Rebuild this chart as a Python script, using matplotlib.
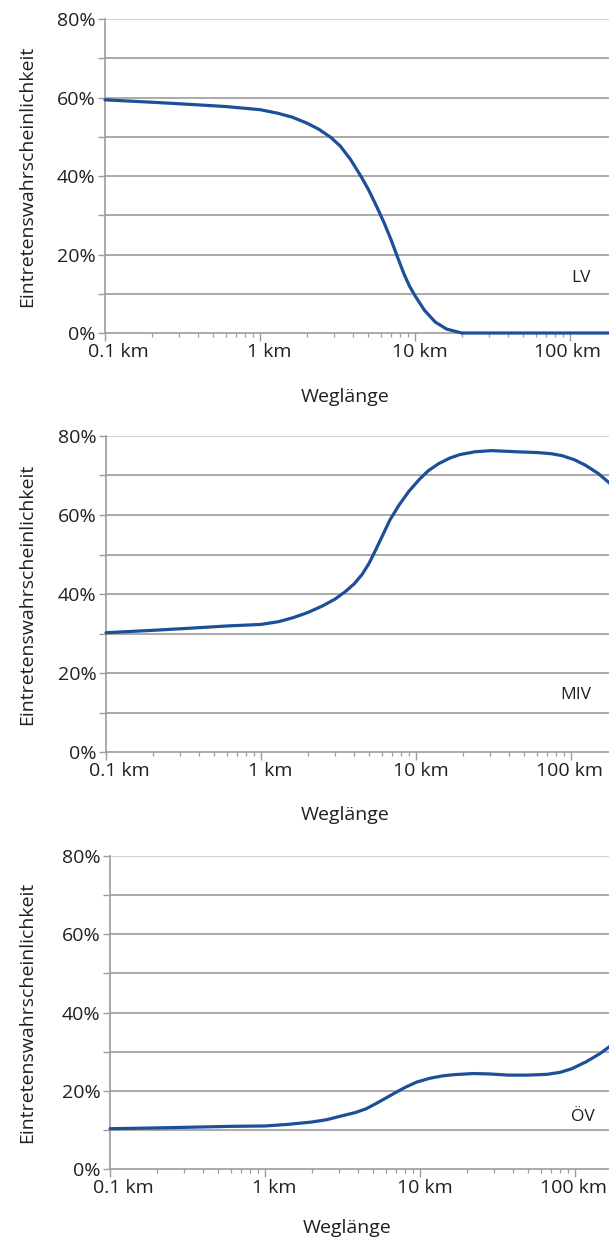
#!/usr/bin/env python3
"""
Eintretenswahrscheinlichkeit nach Weglänge für LV, MIV und ÖV.
"""
import numpy as np
import matplotlib
matplotlib.use('Agg')
import matplotlib.pyplot as plt
from matplotlib.ticker import FixedLocator, FuncFormatter, LogLocator
from matplotlib.transforms import ScaledTranslation

plt.rcParams['font.family'] = ['Open Sans', 'DejaVu Sans']

# Weglänge in km, Wahrscheinlichkeit in %
lv_km = [0.1, 0.2, 0.37, 0.6, 1.0, 1.3, 1.61, 2.0, 2.4, 2.87, 3.3, 3.84, 4.5, 5.0, 5.6,
         6.3, 7.0, 7.6, 8.5, 9.2, 10.0, 11.5, 13.5, 16.0, 20.0, 50.0, 200.0]
lv_pct = [59.4, 58.8, 58.2, 57.7, 56.9, 56.0, 55.0, 53.5, 51.9, 49.8, 47.6, 44.2, 39.8, 36.6, 32.6,
          28.2, 23.8, 20.0, 15.0, 12.0, 9.5, 5.8, 2.8, 1.0, 0.0, 0.0, 0.0]

miv_km = [0.1, 0.2, 0.37, 0.6, 1.0, 1.3, 1.61, 2.0, 2.5, 3.0, 3.5, 4.0, 4.5, 5.0, 5.5, 6.1,
          6.8, 7.8, 9.0, 10.5, 12.0, 14.0, 16.5, 19.2, 24.0, 30.6, 45.0, 61.0, 75.0, 88.0,
          105.0, 124.0, 150.0, 183.0]
miv_pct = [30.2, 30.8, 31.4, 31.9, 32.3, 33.0, 34.0, 35.3, 37.0, 38.7, 40.6, 42.6, 45.0, 47.9, 51.2, 54.9,
           58.8, 62.6, 66.0, 69.0, 71.2, 73.0, 74.4, 75.3, 76.0, 76.3, 76.0, 75.8, 75.5, 75.0,
           74.0, 72.6, 70.5, 67.6]

oev_km = [0.1, 0.2, 0.35, 0.6, 1.0, 1.4, 2.0, 2.5, 3.0, 3.8, 4.5, 5.3, 6.45, 7.3, 8.15, 9.5,
          11.6, 14.0, 16.4, 22.0, 28.0, 37.0, 50.0, 66.0, 80.0, 95.0, 118.0, 145.0, 180.0]
oev_pct = [10.3, 10.5, 10.7, 10.9, 11.0, 11.4, 12.0, 12.6, 13.4, 14.4, 15.4, 16.9, 18.8, 20.0, 21.0, 22.2,
           23.2, 23.8, 24.1, 24.4, 24.3, 24.0, 24.0, 24.2, 24.7, 25.6, 27.4, 29.5, 32.2]

labels = ['LV', 'MIV', 'ÖV']
label_pos = [(117, 14.0), (108, 14.4), (112, 13.3)]
x_ticks = [0.1, 1, 10, 100]
x_ticklabels = ['0.1 km', '1 km', '10 km', '100 km']

FIG_W, FIG_H = 609, 1245
# pixel boxes of the plot areas: left, top, bottom
boxes = [(105, 19, 333), (106, 436, 752), (110, 856, 1169)]
xlabel_gap = [64, 63, 59]
DECADE_PX = 155
tick_shift = [13, 9, 5, -2]

line_color = '#1d4f98'
grid_color = '#9c9c9c'
text_color = '#231f20'


def main():
    fig = plt.figure(figsize=(FIG_W / 100, FIG_H / 100), dpi=100)
    series = [(lv_km, lv_pct), (miv_km, miv_pct), (oev_km, oev_pct)]

    for i, ((xs, ys), (left, top, bottom), name, (lx, ly)) in enumerate(
            zip(series, boxes, labels, label_pos)):
        ax = fig.add_axes([left / FIG_W, 1 - bottom / FIG_H,
                           1 - left / FIG_W, (bottom - top) / FIG_H])
        ax.set_xscale('log')
        xmax = 0.1 * 10 ** ((FIG_W - left) / DECADE_PX)
        ax.set_xlim(0.1, xmax)
        ax.set_ylim(0, 80)

        ax.plot(xs, ys, color=line_color, lw=2.3, solid_capstyle='round',
                solid_joinstyle='round', clip_on=False, zorder=3)

        # grid and spines
        for v in range(10, 81, 10):
            ax.axhline(v, color=grid_color if v < 80 else '#c8c8c8', lw=1.2, zorder=1)
        for s in ['top', 'right']:
            ax.spines[s].set_visible(False)
        for s in ['left', 'bottom']:
            ax.spines[s].set_color(grid_color)
            ax.spines[s].set_linewidth(1.2)

        ax.yaxis.set_major_locator(FixedLocator(list(range(0, 81, 10))))
        ax.yaxis.set_major_formatter(FuncFormatter(
            lambda v, p: f'{int(round(v))}%' if int(round(v)) % 20 == 0 else ''))
        ax.xaxis.set_major_locator(FixedLocator(x_ticks))
        ax.set_xticklabels(x_ticklabels)
        ax.xaxis.set_minor_locator(LogLocator(base=10, subs=np.arange(2, 10)))
        ax.xaxis.set_minor_formatter(FuncFormatter(lambda v, p: ''))

        ax.tick_params(axis='y', direction='out', length=5, width=1.0, color=grid_color,
                       pad=2, labelsize=14, labelcolor=text_color)
        ax.tick_params(axis='x', which='major', direction='out', length=6, width=1.0,
                       color=grid_color, pad=1, labelsize=14, labelcolor=text_color)
        ax.tick_params(axis='x', which='minor', direction='out', length=3, width=0.9,
                       color=grid_color)

        for lbl, dx in zip(ax.get_xticklabels(), tick_shift):
            lbl.set_transform(lbl.get_transform() + ScaledTranslation(dx / 100, 0, fig.dpi_scale_trans))

        ax.set_ylabel('Eintretenswahrscheinlichkeit', fontsize=14, color=text_color)
        ax.yaxis.set_label_coords(-(left - 36) / (FIG_W - left), 0.5)
        ax.set_xlabel('Weglänge', fontsize=14, color=text_color)
        ax.xaxis.label.set_va('center')
        ax.xaxis.set_label_coords(0.476, -xlabel_gap[i] / (bottom - top))

        ax.text(lx, ly, name, fontsize=12.5, color=text_color, ha='center', va='center')

    fig.savefig('out.png', dpi=100)
    plt.close(fig)


if __name__ == '__main__':
    main()
